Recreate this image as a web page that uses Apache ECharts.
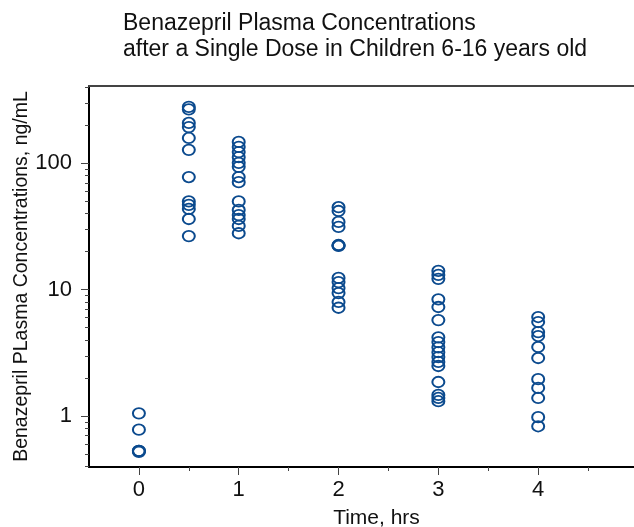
<!DOCTYPE html>
<html>
<head>
<meta charset="utf-8">
<script src="https://cdn.jsdelivr.net/npm/echarts@6/dist/echarts.min.js"></script>
<style>
html, body { margin: 0; padding: 0; background: #fff; }
#chart { width: 634px; height: 527px; }
</style>
</head>
<body>
<div id="chart"></div>
<script>
// sampling times (hrs) and the concentrations seen at each one (ng/mL)
var times = [0, 0.5, 1, 2, 3, 4];
var conc0 = [1.05, 0.78, 0.53, 0.53, 0.52];
var conc05 = [280, 268, 209, 194, 159, 128, 78, 50, 47, 43.6, 36.3, 26.6];
var conc1 = [148, 135, 123, 112, 101, 94, 78, 71, 50, 42.8, 39, 36.3, 32, 28];
var conc2 = [45, 42, 34.4, 31.4, 22.6, 22.4, 22.2, 12.4, 11.5, 10.3, 9.4, 8.0, 7.2];
var conc3 = [14.1, 13.1, 12.2, 8.4, 7.3, 5.75, 4.2, 3.85, 3.5, 3.2, 2.93, 2.68, 2.49, 1.86, 1.47, 1.39, 1.31];
var conc4 = [6.08, 5.55, 4.62, 4.30, 3.52, 2.88, 1.96, 1.67, 1.39, 0.98, 0.83];

var xMajor = [0, 1, 2, 3, 4];
var xMinor = [0.5, 1.5, 2.5, 3.5, 4.5];
var yMajor = [1, 10, 100];
var yMinor = [0.4, 0.5, 0.6, 0.7, 0.8, 0.9, 2, 3, 4, 5, 6, 7, 8, 9,
              20, 30, 40, 50, 60, 70, 80, 90, 200, 300, 400];

var font = 'Liberation Sans, Arial, sans-serif';
var blue = '#0b4a8e';

var points = [];
[conc0, conc05, conc1, conc2, conc3, conc4].forEach(function (list, i) {
    list.forEach(function (v) {
        points.push([times[i], v]);
    });
});

var chart = echarts.init(document.getElementById('chart'));
var option = {
    backgroundColor: '#fff',
    animation: false,
    title: {
        text: 'Benazepril Plasma Concentrations\nafter a Single Dose in Children 6-16 years old',
        left: 118,
        top: 6,
        textStyle: {
            fontFamily: font,
            fontSize: 23,
            fontWeight: 'normal',
            color: '#111',
            lineHeight: 26
        }
    },
    grid: {
        left: 89,
        right: 0,
        top: 86,
        bottom: 60,
        containLabel: false,
        outerBoundsMode: 'none'
    },
    xAxis: [{
        type: 'value',
        position: 'bottom',
        min: -0.5,
        max: 4.96,
        name: 'Time, hrs',
        nameLocation: 'middle',
        nameGap: 41,
        nameMoveOverlap: false,
        nameTextStyle: { fontFamily: font, fontSize: 21, color: '#111', padding: [0, 0, 0, 30] },
        axisLine: { onZero: false, lineStyle: { color: '#000', width: 2 } },
        axisTick: { customValues: xMajor, length: 8, lineStyle: { color: '#444', width: 1 } },
        axisLabel: { customValues: xMajor, margin: 12, fontFamily: font, fontSize: 22, color: '#111' },
        splitLine: { show: false }
    }, {
        type: 'value',
        position: 'bottom',
        min: -0.5,
        max: 4.96,
        axisLine: { show: false, onZero: false },
        axisTick: { customValues: xMinor, length: 4, lineStyle: { color: '#444', width: 1 } },
        axisLabel: { show: false },
        splitLine: { show: false }
    }, {
        type: 'value',
        position: 'top',
        min: -0.5,
        max: 4.96,
        axisLine: { onZero: false, lineStyle: { color: '#444', width: 2 } },
        axisTick: { show: false },
        axisLabel: { show: false },
        splitLine: { show: false }
    }],
    yAxis: [{
        type: 'log',
        position: 'left',
        min: 0.395,
        max: 410,
        name: 'Benazepril PLasma Concentrations, ng/mL',
        nameLocation: 'middle',
        nameGap: 57,
        nameMoveOverlap: false,
        nameTextStyle: { fontFamily: font, fontSize: 19.5, color: '#111' },
        axisLine: { onZero: false, lineStyle: { color: '#000', width: 2 } },
        axisTick: { customValues: yMajor, length: 8, lineStyle: { color: '#444', width: 1 } },
        axisLabel: { customValues: yMajor, margin: 17, fontFamily: font, fontSize: 22, color: '#111' },
        splitLine: { show: false }
    }, {
        type: 'log',
        position: 'left',
        min: 0.395,
        max: 410,
        axisLine: { show: false, onZero: false },
        axisTick: { customValues: yMinor, length: 4, lineStyle: { color: '#444', width: 1 } },
        axisLabel: { show: false },
        splitLine: { show: false }
    }],
    series: [{
        type: 'scatter',
        xAxisIndex: 0,
        yAxisIndex: 0,
        symbol: 'circle',
        symbolSize: [12, 10.5],
        itemStyle: { color: 'rgba(0,0,0,0)', borderColor: blue, borderWidth: 1.9, opacity: 1 },
        data: points
    }]
};
chart.setOption(option);
</script>
</body>
</html>
